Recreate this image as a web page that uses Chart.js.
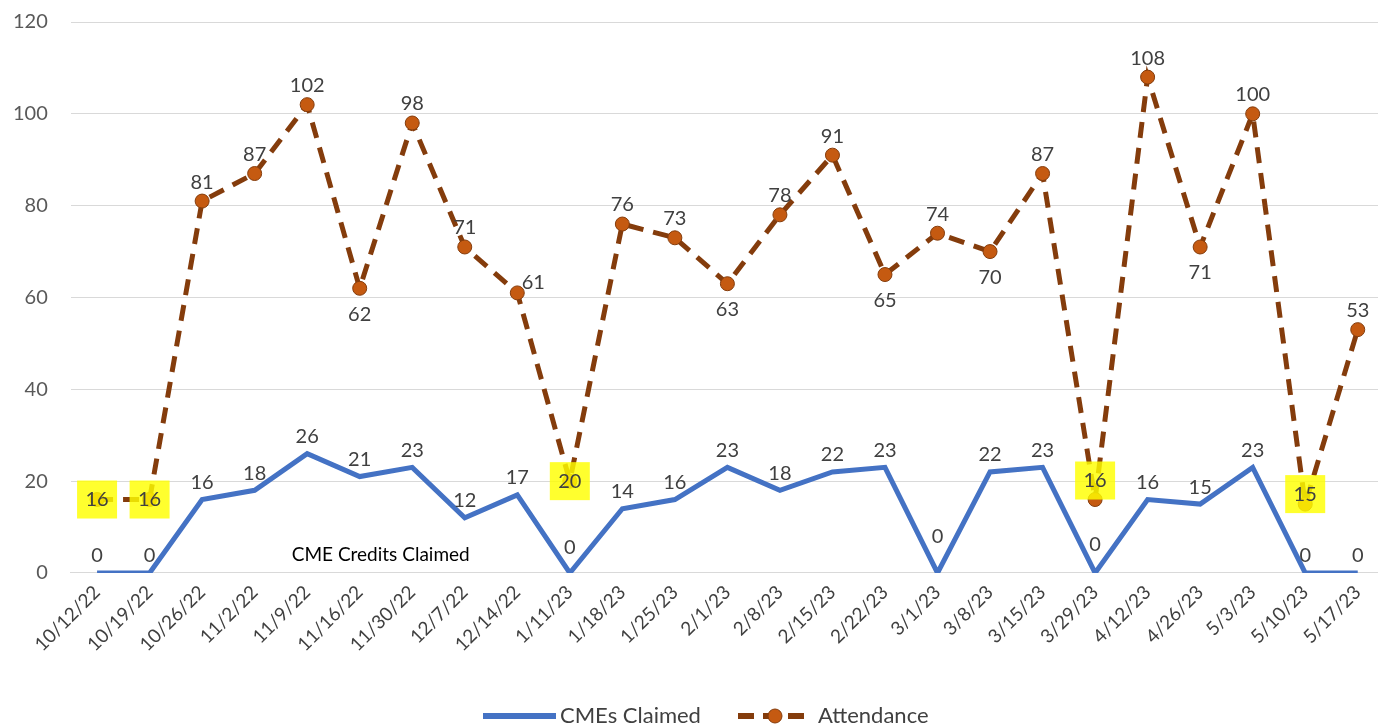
<!DOCTYPE html>
<html>
<head>
<meta charset="utf-8">
<script src="https://cdn.jsdelivr.net/npm/chart.js@4"></script>
<style>
  html, body { margin: 0; padding: 0; background: #fff; }
  #wrap { width: 1378px; height: 727px; }
</style>
</head>
<body>
<div id="wrap"><canvas id="cme-graph"></canvas></div>
<script>
// Data

const dates = ['10/12/22', '10/19/22', '10/26/22', '11/2/22', '11/9/22', '11/16/22', '11/30/22', '12/7/22', '12/14/22',
  '1/11/23', '1/18/23', '1/25/23', '2/1/23', '2/8/23', '2/15/23', '2/22/23', '3/1/23', '3/8/23', '3/15/23', '3/29/23',
  '4/12/23', '4/26/23', '5/3/23', '5/10/23', '5/17/23'];
const cmesClaimed = [0, 0, 16, 18, 26, 21, 23, 12, 17, 0, 14, 16, 23, 18, 22, 23, 0, 22, 23, 0, 16, 15, 23, 0, 0];
const attendance = [16, 16, 81, 87, 102, 62, 98, 71, 61, 20, 76, 73, 63, 78, 91, 65, 74, 70, 87, 16, 108, 71, 100, 15, 53];
const yTicks = [0, 20, 40, 60, 80, 100, 120];

// label placement for attendance: a = above, b = below, r = above right, h = highlighted
const attendancePos = ['h', 'h', 'a', 'a', 'a', 'b', 'a', 'a', 'r', 'h', 'a', 'a', 'b', 'a', 'a', 'b', 'a', 'b', 'a', 'h',
  'a', 'b', 'a', 'h', 'a'];

const font = 'Lato, "Open Sans", sans-serif';
const blue = '#4472C4';
const brown = '#843C0C';
const orange = '#C55A11';

// labels nudged by hand in the original
const highlightShift = { 19: -19, 23: -10 };
const cmeShift = { 9: -25, 16: -36, 19: -28 };

function labelSpot(meta, j, kind) {
  const pt = meta.data[j];
  let x = pt.x, y = pt.y;
  if (kind === 'a') y -= 19;
  else if (kind === 'b') y += 26;
  else if (kind === 'r') { x += 16; y -= 10; }
  else if (kind === 'h') y += (highlightShift[j] || 0);
  else if (kind === 'c') y += (cmeShift[j] || -17);
  return { x, y };
}

const labelPlugin = {
  id: 'labels',
  afterLayout(chart) {
    // plot area runs a little past the right edge, like the original
    const xs = chart.scales.x;
    const right = chart.width + 6;
    chart.chartArea.right = right;
    chart.chartArea.width = right - chart.chartArea.left;
    xs.right = right;
    xs.width = right - xs.left;
    xs.configure();
  },
  beforeDatasetsDraw(chart) {
    // text inside plot
    const ctx = chart.ctx;
    const xs = chart.scales.x, ys = chart.scales.y;
    ctx.save();
    ctx.fillStyle = '#000';
    ctx.font = '19px ' + font;
    ctx.textAlign = 'center';
    ctx.textBaseline = 'middle';
    ctx.fillText('CME Credits Claimed', xs.getPixelForValue(5.4), ys.getPixelForValue(4));
    ctx.restore();
  },
  afterDatasetsDraw(chart) {
    const ctx = chart.ctx;
    ctx.save();
    const m1 = chart.getDatasetMeta(1);
    ctx.fillStyle = 'rgba(255, 255, 0, 0.82)';
    attendancePos.forEach((k, j) => {
      if (k !== 'h') return;
      const s = labelSpot(m1, j, k);
      ctx.fillRect(s.x - 20, s.y - 19, 40, 38);
    });
    ctx.font = '20px ' + font;
    ctx.fillStyle = '#404040';
    ctx.textAlign = 'center';
    ctx.textBaseline = 'middle';
    const m0 = chart.getDatasetMeta(0);
    cmesClaimed.forEach((v, j) => {
      const s = labelSpot(m0, j, 'c');
      ctx.fillText(v, s.x, s.y);
    });
    attendance.forEach((v, j) => {
      const s = labelSpot(m1, j, attendancePos[j]);
      ctx.fillText(v, s.x, s.y);
    });
    ctx.restore();
  },
  afterDraw(chart) {
    // legend
    const ctx = chart.ctx;
    const y = 716;
    ctx.save();
    ctx.lineCap = 'butt';
    ctx.strokeStyle = blue;
    ctx.lineWidth = 6;
    ctx.beginPath();
    ctx.moveTo(483, y);
    ctx.lineTo(556, y);
    ctx.stroke();
    ctx.strokeStyle = brown;
    ctx.setLineDash([16, 9]);
    ctx.beginPath();
    ctx.moveTo(738, y);
    ctx.lineTo(813, y);
    ctx.stroke();
    ctx.setLineDash([]);
    ctx.fillStyle = orange;
    ctx.strokeStyle = brown;
    ctx.lineWidth = 1;
    ctx.beginPath();
    ctx.arc(775, y, 7, 0, Math.PI * 2);
    ctx.fill();
    ctx.stroke();
    ctx.fillStyle = '#404040';
    ctx.font = '22px ' + font;
    ctx.textAlign = 'left';
    ctx.textBaseline = 'middle';
    ctx.fillText('CMEs Claimed', 560, y);
    ctx.fillText('Attendance', 818, y);
    ctx.restore();
  }
};

const cmeChart = new Chart(document.querySelector('#cme-graph'), {
  type: 'line',
  data: {
    labels: dates,
    datasets: [{
      label: 'CMEs Claimed',
      data: cmesClaimed,
      borderColor: blue,
      borderWidth: 5,
      pointRadius: 0,
      tension: 0
    }, {
      label: 'Attendance',
      data: attendance,
      borderColor: brown,
      borderWidth: 5,
      borderDash: [16, 10],
      pointRadius: 7,
      pointBackgroundColor: orange,
      pointBorderColor: brown,
      pointBorderWidth: 1,
      tension: 0
    }]
  },
  options: {
    responsive: true,
    maintainAspectRatio: false,
    animation: false,
    layout: {
      padding: { left: -10, right: 0, top: 22, bottom: 63 }
    },
    scales: {
      x: {
        offset: true,
        afterFit(scale) {
          scale.paddingLeft = 0;
          scale.paddingRight = 0;
        },
        grid: { display: false, drawTicks: false },
        border: { color: '#d9d9d9', width: 1 },
        ticks: {
          color: '#404040',
          font: { family: font, size: 19 },
          minRotation: 45,
          maxRotation: 45,
          padding: 8,
          autoSkip: false
        }
      },
      y: {
        min: 0,
        max: 120,
        afterBuildTicks(scale) {
          scale.ticks = yTicks.map(v => ({ value: v }));
        },
        afterFit(scale) {
          scale.paddingTop = 0;
          scale.paddingBottom = 0;
        },
        grid: { color: '#d9d9d9', drawTicks: false },
        border: { display: false },
        ticks: {
          color: '#595959',
          font: { family: font, size: 20 },
          padding: 23
        }
      }
    },
    plugins: {
      legend: { display: false },
      tooltip: { enabled: false }
    }
  },
  plugins: [labelPlugin]
});
</script>
</body>
</html>
